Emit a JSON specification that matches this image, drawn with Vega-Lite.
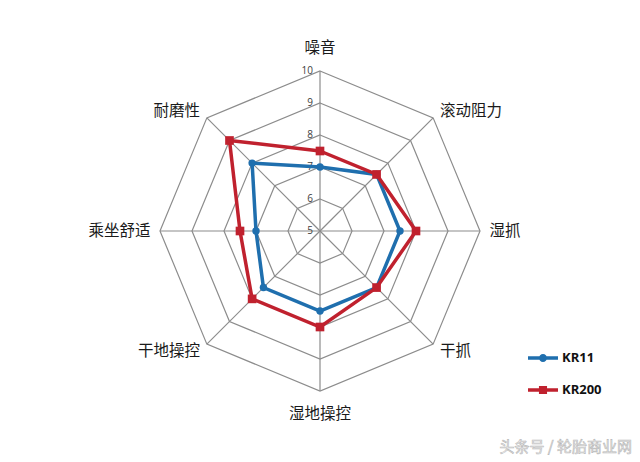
{
  "$schema": "https://vega.github.io/schema/vega-lite/v6.json",
  "width": 640,
  "height": 462,
  "autosize": {"type": "none"},
  "padding": 0,
  "background": "white",
  "config": {"view": {"stroke": null}},
  "datasets": {
    "scores": [
      {"axis": "噪音", "i": 0, "series": "KR11", "score": 7.0},
      {"axis": "滚动阻力", "i": 1, "series": "KR11", "score": 7.5},
      {"axis": "湿抓", "i": 2, "series": "KR11", "score": 7.5},
      {"axis": "干抓", "i": 3, "series": "KR11", "score": 7.5},
      {"axis": "湿地操控", "i": 4, "series": "KR11", "score": 7.5},
      {"axis": "干地操控", "i": 5, "series": "KR11", "score": 7.5},
      {"axis": "乘坐舒适", "i": 6, "series": "KR11", "score": 7.0},
      {"axis": "耐磨性", "i": 7, "series": "KR11", "score": 8.0},
      {"axis": "噪音", "i": 0, "series": "KR200", "score": 7.5},
      {"axis": "滚动阻力", "i": 1, "series": "KR200", "score": 7.5},
      {"axis": "湿抓", "i": 2, "series": "KR200", "score": 8.0},
      {"axis": "干抓", "i": 3, "series": "KR200", "score": 7.5},
      {"axis": "湿地操控", "i": 4, "series": "KR200", "score": 8.0},
      {"axis": "干地操控", "i": 5, "series": "KR200", "score": 8.0},
      {"axis": "乘坐舒适", "i": 6, "series": "KR200", "score": 7.5},
      {"axis": "耐磨性", "i": 7, "series": "KR200", "score": 9.0}
    ],
    "grid": [
      {"level": 6, "i": 0}, {"level": 6, "i": 1}, {"level": 6, "i": 2}, {"level": 6, "i": 3}, {"level": 6, "i": 4}, {"level": 6, "i": 5}, {"level": 6, "i": 6}, {"level": 6, "i": 7},
      {"level": 7, "i": 0}, {"level": 7, "i": 1}, {"level": 7, "i": 2}, {"level": 7, "i": 3}, {"level": 7, "i": 4}, {"level": 7, "i": 5}, {"level": 7, "i": 6}, {"level": 7, "i": 7},
      {"level": 8, "i": 0}, {"level": 8, "i": 1}, {"level": 8, "i": 2}, {"level": 8, "i": 3}, {"level": 8, "i": 4}, {"level": 8, "i": 5}, {"level": 8, "i": 6}, {"level": 8, "i": 7},
      {"level": 9, "i": 0}, {"level": 9, "i": 1}, {"level": 9, "i": 2}, {"level": 9, "i": 3}, {"level": 9, "i": 4}, {"level": 9, "i": 5}, {"level": 9, "i": 6}, {"level": 9, "i": 7},
      {"level": 10, "i": 0}, {"level": 10, "i": 1}, {"level": 10, "i": 2}, {"level": 10, "i": 3}, {"level": 10, "i": 4}, {"level": 10, "i": 5}, {"level": 10, "i": 6}, {"level": 10, "i": 7}
    ],
    "axes": [
      {"axis": "噪音", "i": 0}, {"axis": "滚动阻力", "i": 1}, {"axis": "湿抓", "i": 2}, {"axis": "干抓", "i": 3},
      {"axis": "湿地操控", "i": 4}, {"axis": "干地操控", "i": 5}, {"axis": "乘坐舒适", "i": 6}, {"axis": "耐磨性", "i": 7}
    ],
    "ticks": [{"level": 5}, {"level": 6}, {"level": 7}, {"level": 8}, {"level": 9}, {"level": 10}],
    "watermark": [{"text": "头条号 / 轮胎商业网"}]
  },
  "layer": [
    {
      "data": {"name": "grid"},
      "transform": [
        {"calculate": "(datum.level - 5) * sin(datum.i * PI / 4)", "as": "x"},
        {"calculate": "(datum.level - 5) * cos(datum.i * PI / 4)", "as": "y"}
      ],
      "mark": {"type": "line", "interpolate": "linear-closed", "stroke": "#8c8c8c", "strokeWidth": 1.2},
      "encoding": {
        "x": {"field": "x", "type": "quantitative", "scale": {"domain": [-10, 10], "nice": false, "zero": false}, "axis": null},
        "y": {"field": "y", "type": "quantitative", "scale": {"domain": [-7.21875, 7.21875], "nice": false, "zero": false}, "axis": null},
        "detail": {"field": "level"},
        "order": {"field": "i"}
      }
    },
    {
      "data": {"name": "axes"},
      "transform": [
        {"calculate": "5 * sin(datum.i * PI / 4)", "as": "x"},
        {"calculate": "5 * cos(datum.i * PI / 4)", "as": "y"},
        {"calculate": "0", "as": "x0"},
        {"calculate": "0", "as": "y0"}
      ],
      "mark": {"type": "rule", "stroke": "#8c8c8c", "strokeWidth": 1.2},
      "encoding": {
        "x": {"field": "x0", "type": "quantitative"},
        "y": {"field": "y0", "type": "quantitative"},
        "x2": {"field": "x"},
        "y2": {"field": "y"}
      }
    },
    {
      "data": {"name": "ticks"},
      "transform": [
        {"calculate": "-0.22", "as": "x"},
        {"calculate": "datum.level - 5", "as": "y"}
      ],
      "mark": {"type": "text", "align": "right", "baseline": "middle", "font": "Open Sans", "fontSize": 10, "fill": "#404040"},
      "encoding": {
        "x": {"field": "x", "type": "quantitative"},
        "y": {"field": "y", "type": "quantitative"},
        "text": {"field": "level", "type": "quantitative"}
      }
    },
    {
      "data": {"name": "scores"},
      "transform": [
        {"calculate": "(datum.score - 5) * sin(datum.i * PI / 4)", "as": "x"},
        {"calculate": "(datum.score - 5) * cos(datum.i * PI / 4)", "as": "y"}
      ],
      "mark": {"type": "line", "interpolate": "linear-closed", "strokeWidth": 3.5},
      "encoding": {
        "x": {"field": "x", "type": "quantitative"},
        "y": {"field": "y", "type": "quantitative"},
        "order": {"field": "i"},
        "color": {
          "field": "series",
          "type": "nominal",
          "scale": {"domain": ["KR11", "KR200"], "range": ["#1f6fae", "#c0212e"]},
          "legend": {
            "title": null,
            "orient": "none",
            "legendX": 528,
            "legendY": 343,
            "direction": "vertical",
            "labelFont": "Open Sans",
            "labelFontSize": 13,
            "labelFontWeight": "bold",
            "labelColor": "#111111",
            "rowPadding": 10,
            "symbolSize": 900,
            "symbolStrokeWidth": 0,
            "labelOffset": 4,
            "encode": {
              "symbols": {
                "update": {
                  "shape": {"signal": "datum.value === 'KR11' ? 'M-1,-0.11 H1 V0.11 H-1 Z M0.27,0 A0.27,0.27 0 1 1 -0.27,0 A0.27,0.27 0 1 1 0.27,0 Z' : 'M-1,-0.11 H1 V0.11 H-1 Z M-0.27,-0.27 H0.27 V0.27 H-0.27 Z'"},
                  "fill": {"signal": "scale('color', datum.value)"},
                  "strokeWidth": {"value": 0}
                }
              }
            }
          }
        }
      }
    },
    {
      "data": {"name": "scores"},
      "transform": [
        {"filter": "datum.series === 'KR11'"},
        {"calculate": "(datum.score - 5) * sin(datum.i * PI / 4)", "as": "x"},
        {"calculate": "(datum.score - 5) * cos(datum.i * PI / 4)", "as": "y"}
      ],
      "mark": {"type": "point", "shape": "circle", "filled": true, "size": 55, "opacity": 1, "color": "#1f6fae"},
      "encoding": {
        "x": {"field": "x", "type": "quantitative"},
        "y": {"field": "y", "type": "quantitative"}
      }
    },
    {
      "data": {"name": "scores"},
      "transform": [
        {"filter": "datum.series === 'KR200'"},
        {"calculate": "(datum.score - 5) * sin(datum.i * PI / 4)", "as": "x"},
        {"calculate": "(datum.score - 5) * cos(datum.i * PI / 4)", "as": "y"}
      ],
      "mark": {"type": "point", "shape": "square", "filled": true, "size": 75, "opacity": 1, "color": "#c0212e"},
      "encoding": {
        "x": {"field": "x", "type": "quantitative"},
        "y": {"field": "y", "type": "quantitative"}
      }
    },
    {
      "data": {"name": "axes"},
      "transform": [
        {"filter": "datum.i === 0 || datum.i === 4"},
        {"calculate": "5.72 * sin(datum.i * PI / 4)", "as": "x"},
        {"calculate": "5.72 * cos(datum.i * PI / 4)", "as": "y"}
      ],
      "mark": {"type": "text", "align": "center", "baseline": "middle", "font": "Noto Sans CJK SC", "fontSize": 15.5, "fill": "#1a1a1a"},
      "encoding": {
        "x": {"field": "x", "type": "quantitative"},
        "y": {"field": "y", "type": "quantitative"},
        "text": {"field": "axis"}
      }
    },
    {
      "data": {"name": "axes"},
      "transform": [
        {"filter": "datum.i >= 1 && datum.i <= 3"},
        {"calculate": "5.3 * sin(datum.i * PI / 4)", "as": "x"},
        {"calculate": "5.3 * cos(datum.i * PI / 4)", "as": "y"}
      ],
      "mark": {"type": "text", "align": "left", "baseline": "middle", "font": "Noto Sans CJK SC", "fontSize": 15.5, "fill": "#1a1a1a"},
      "encoding": {
        "x": {"field": "x", "type": "quantitative"},
        "y": {"field": "y", "type": "quantitative"},
        "text": {"field": "axis"}
      }
    },
    {
      "data": {"name": "axes"},
      "transform": [
        {"filter": "datum.i >= 5"},
        {"calculate": "5.3 * sin(datum.i * PI / 4)", "as": "x"},
        {"calculate": "5.3 * cos(datum.i * PI / 4)", "as": "y"}
      ],
      "mark": {"type": "text", "align": "right", "baseline": "middle", "font": "Noto Sans CJK SC", "fontSize": 15.5, "fill": "#1a1a1a"},
      "encoding": {
        "x": {"field": "x", "type": "quantitative"},
        "y": {"field": "y", "type": "quantitative"},
        "text": {"field": "axis"}
      }
    },
    {
      "data": {"name": "watermark"},
      "mark": {"type": "text", "align": "right", "baseline": "middle", "font": "Noto Sans CJK SC", "fontSize": 15, "fill": "#f4f4f4", "stroke": "#b8b8b8", "strokeWidth": 0.6},
      "encoding": {
        "x": {"datum": 9.75},
        "y": {"datum": -6.75},
        "text": {"field": "text"}
      }
    }
  ]
}
